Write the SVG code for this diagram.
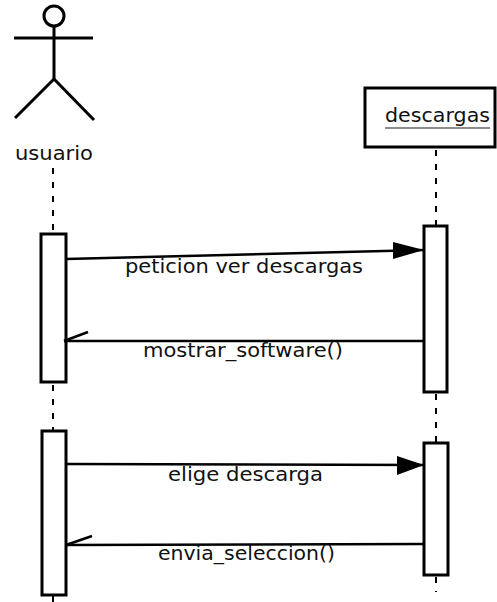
<svg xmlns="http://www.w3.org/2000/svg" width="497" height="602" viewBox="0 0 497 602">
<style>
.t{font-family:"DejaVu Sans","Liberation Sans",sans-serif;font-size:20px;fill:#111}
.act{fill:#fff;stroke:#000;stroke-width:3}
.life{stroke:#000;stroke-width:2;stroke-dasharray:6 8;fill:none}
.msg{stroke:#000;stroke-width:2.5;fill:none}
</style>
<rect width="497" height="602" fill="#fff"/>
<g id="usuario">
<circle cx="54" cy="16" r="10" fill="none" stroke="#000" stroke-width="3"/>
<line x1="54" y1="26" x2="54" y2="79" stroke="#000" stroke-width="3"/>
<line x1="14" y1="38" x2="93" y2="38" stroke="#000" stroke-width="3"/>
<line x1="54" y1="79" x2="15" y2="118" stroke="#000" stroke-width="3"/>
<line x1="54" y1="79" x2="94" y2="120" stroke="#000" stroke-width="3"/>
<text class="t" x="15" y="160" textLength="78" lengthAdjust="spacingAndGlyphs">usuario</text>
</g>
<g id="descargas">
<rect x="365" y="88" width="130" height="59" fill="#fff" stroke="#000" stroke-width="3"/>
<text class="t" x="385" y="122" textLength="105" lengthAdjust="spacingAndGlyphs">descargas</text>
<line x1="385" y1="128" x2="490" y2="128" stroke="#666" stroke-width="1.5"/>
</g>
<g id="lifelines">
<line class="life" x1="53" y1="168" x2="53" y2="233"/>
<line class="life" x1="53" y1="385" x2="53" y2="430"/>
<line class="life" x1="53" y1="596" x2="53" y2="602"/>
<line class="life" x1="436" y1="150" x2="436" y2="225"/>
<line class="life" x1="436" y1="394" x2="436" y2="443"/>
<line class="life" x1="436" y1="577" x2="436" y2="592"/>
</g>
<g id="act-usuario-1"><rect class="act" x="41" y="234" width="25" height="148"/></g>
<g id="act-descargas-1"><rect class="act" x="424" y="226" width="23" height="166"/></g>
<g id="act-usuario-2"><rect class="act" x="42" y="431" width="24" height="164"/></g>
<g id="act-descargas-2"><rect class="act" x="424" y="443" width="24" height="132"/></g>
<g id="connectors">
<line class="msg" x1="66" y1="259" x2="424" y2="250"/>
<path d="M393,242 L424,250 L393,259 Z" fill="#000"/>
<text class="t" x="125" y="273" textLength="238" lengthAdjust="spacingAndGlyphs">peticion ver descargas</text>
<line class="msg" x1="424" y1="341" x2="64" y2="341"/>
<line class="msg" x1="64" y1="341" x2="88" y2="332"/>
<text class="t" x="143" y="357" textLength="200" lengthAdjust="spacingAndGlyphs">mostrar_software()</text>
<line class="msg" x1="66" y1="464" x2="424" y2="465"/>
<path d="M397,456 L424,465 L397,475 Z" fill="#000"/>
<text class="t" x="168" y="481" textLength="155" lengthAdjust="spacingAndGlyphs">elige descarga</text>
<line class="msg" x1="424" y1="544" x2="66" y2="545"/>
<line class="msg" x1="66" y1="545" x2="92" y2="536"/>
<text class="t" x="158" y="560" textLength="177" lengthAdjust="spacingAndGlyphs">envia_seleccion()</text>
</g>
</svg>
